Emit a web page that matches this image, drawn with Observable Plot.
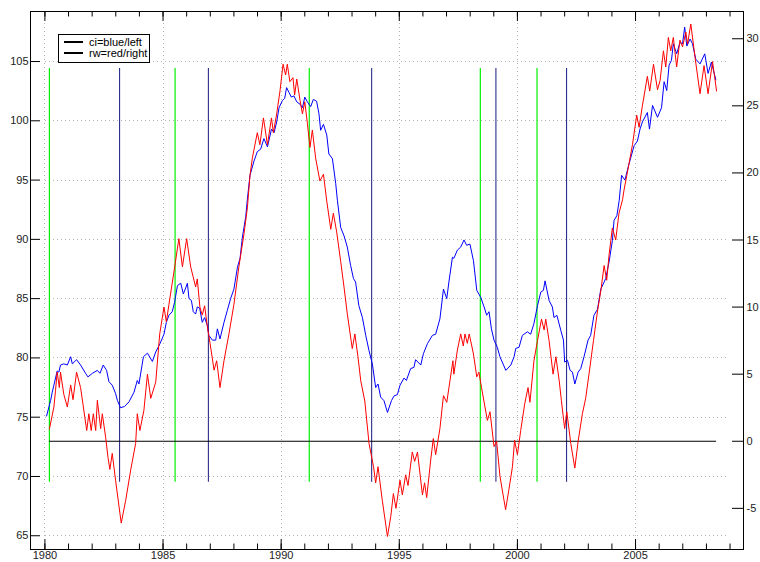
<!DOCTYPE html>
<html><head><meta charset="utf-8">
<script src="https://cdn.jsdelivr.net/npm/d3@7"></script>
<script src="https://cdn.jsdelivr.net/npm/@observablehq/plot@0.6"></script>
<style>
body{margin:0;background:#fff;}
#wrap{position:relative;width:760px;height:562px;font-family:"Liberation Sans",Arial,sans-serif;}
#legend{position:absolute;left:58px;top:34px;width:90px;height:27px;border:1px solid #000;background:#fff;font-size:11px;color:#000;}
#legend .row{position:absolute;left:0;height:12px;line-height:12px;}
#legend .sw{position:absolute;left:5px;top:5px;width:19px;height:2px;background:#000;}
#legend .lb{position:absolute;left:30px;top:0;white-space:nowrap;}
</style></head>
<body><div id="wrap"><div id="chart"></div>
<div id="legend">
<div class="row" style="top:1px"><div class="sw"></div><div class="lb">ci=blue/left</div></div>
<div class="row" style="top:12px"><div class="sw"></div><div class="lb">rw=red/right</div></div>
</div></div>
<script>
// ci (blue, left axis): [year, value]
const ciSeries = [[1980.07,75.1],[1980.24,76.4],[1980.31,77.1],[1980.38,77.7],[1980.52,78.9],[1980.59,78.8],[1980.66,79.4],[1980.80,79.5],[1980.95,79.4],[1981.09,80.1],[1981.16,79.5],[1981.34,79.85],[1981.51,79.4],[1981.72,78.7],[1981.82,78.4],[1982.01,78.7],[1982.22,78.95],[1982.33,78.7],[1982.47,79.4],[1982.61,78.95],[1982.71,78.0],[1982.85,77.7],[1982.99,77.0],[1983.07,76.4],[1983.20,75.8],[1983.37,75.9],[1983.56,76.3],[1983.77,77.1],[1983.91,78.1],[1983.98,77.8],[1984.17,80.1],[1984.34,80.4],[1984.55,79.7],[1984.69,80.5],[1984.87,81.2],[1985.04,82.0],[1985.14,83.0],[1985.25,83.6],[1985.39,83.9],[1985.49,84.7],[1985.61,86.1],[1985.75,86.3],[1985.86,85.4],[1985.96,85.9],[1986.03,86.3],[1986.10,85.0],[1986.20,84.85],[1986.28,83.9],[1986.38,83.7],[1986.45,84.3],[1986.55,84.2],[1986.66,83.0],[1986.76,83.4],[1986.88,82.7],[1986.94,81.9],[1987.09,81.5],[1987.23,81.5],[1987.30,82.45],[1987.41,81.6],[1987.58,83.0],[1987.72,84.0],[1987.86,85.0],[1988.00,85.8],[1988.15,87.65],[1988.26,88.4],[1988.36,90.2],[1988.50,91.9],[1988.57,93.4],[1988.68,95.4],[1988.85,96.6],[1988.99,97.4],[1989.13,97.6],[1989.27,98.5],[1989.42,97.8],[1989.59,99.3],[1989.70,99.0],[1989.81,99.9],[1989.91,101.1],[1990.05,101.7],[1990.15,101.9],[1990.23,102.8],[1990.33,102.4],[1990.43,102.0],[1990.54,102.1],[1990.66,101.6],[1990.80,101.4],[1990.90,101.1],[1991.00,102.0],[1991.11,101.6],[1991.25,101.2],[1991.36,101.8],[1991.50,101.65],[1991.60,100.6],[1991.67,99.2],[1991.79,99.7],[1991.93,98.8],[1992.02,97.2],[1992.17,96.8],[1992.31,94.7],[1992.38,93.3],[1992.52,91.0],[1992.66,90.3],[1992.80,89.35],[1992.94,87.8],[1993.06,86.7],[1993.15,86.4],[1993.29,84.4],[1993.44,83.4],[1993.58,81.9],[1993.72,80.6],[1993.86,79.5],[1994.00,77.5],[1994.10,77.8],[1994.21,76.7],[1994.35,76.4],[1994.50,75.4],[1994.67,76.4],[1994.78,76.8],[1994.92,76.9],[1995.03,77.7],[1995.20,78.3],[1995.30,78.1],[1995.48,79.1],[1995.62,79.2],[1995.69,79.85],[1995.91,79.4],[1996.02,80.35],[1996.19,81.2],[1996.40,81.9],[1996.54,82.0],[1996.72,83.3],[1996.87,85.8],[1997.01,85.0],[1997.10,86.4],[1997.25,88.5],[1997.31,88.4],[1997.46,89.1],[1997.60,89.35],[1997.74,89.95],[1997.85,89.5],[1997.99,89.6],[1998.14,88.2],[1998.28,85.7],[1998.45,85.1],[1998.59,84.3],[1998.70,83.6],[1998.80,83.9],[1998.90,82.45],[1999.01,81.5],[1999.15,80.9],[1999.26,80.1],[1999.51,78.95],[1999.72,79.4],[1999.86,80.1],[1999.93,80.8],[2000.07,80.9],[2000.21,81.9],[2000.42,82.2],[2000.56,82.0],[2000.70,82.9],[2000.85,84.4],[2000.99,85.55],[2001.10,85.7],[2001.17,86.5],[2001.34,84.85],[2001.48,84.3],[2001.55,83.4],[2001.67,83.6],[2001.84,82.3],[2001.95,81.5],[2002.00,79.65],[2002.12,79.8],[2002.23,78.95],[2002.33,78.8],[2002.43,77.8],[2002.57,78.8],[2002.68,79.1],[2002.82,80.1],[2002.99,81.5],[2003.10,81.9],[2003.24,83.6],[2003.39,84.1],[2003.53,85.8],[2003.74,86.7],[2003.88,88.1],[2004.02,89.9],[2004.09,91.6],[2004.21,92.0],[2004.31,93.3],[2004.41,95.4],[2004.55,95.0],[2004.73,96.4],[2004.94,97.9],[2005.08,98.3],[2005.19,99.3],[2005.29,99.9],[2005.50,100.7],[2005.59,99.3],[2005.72,101.3],[2005.93,100.3],[2006.10,101.1],[2006.21,103.3],[2006.32,102.55],[2006.42,104.7],[2006.52,105.1],[2006.60,106.5],[2006.74,105.65],[2006.88,106.6],[2006.99,106.5],[2007.08,107.9],[2007.17,106.3],[2007.31,106.9],[2007.41,106.5],[2007.55,105.2],[2007.73,104.8],[2007.93,105.65],[2008.07,104.0],[2008.21,104.95],[2008.40,103.45]];

// rw (red, right axis): [year, value]
const rwSeries = [[1980.19,0.9],[1980.38,2.55],[1980.45,3.8],[1980.52,5.15],[1980.61,4.0],[1980.66,5.15],[1980.80,3.5],[1980.95,2.55],[1981.09,4.2],[1981.19,3.1],[1981.34,5.15],[1981.51,4.0],[1981.77,0.8],[1981.86,2.05],[1981.96,0.8],[1982.05,2.05],[1982.15,0.8],[1982.22,3.05],[1982.36,0.94],[1982.43,2.05],[1982.57,0.3],[1982.67,-1.2],[1982.75,-2.1],[1982.85,-0.9],[1982.99,-2.9],[1983.23,-6.1],[1983.42,-4.4],[1983.63,-2.15],[1983.84,-0.17],[1983.91,2.05],[1984.02,0.8],[1984.19,2.3],[1984.34,5.0],[1984.48,3.2],[1984.69,4.4],[1984.86,8.0],[1985.04,10.0],[1985.14,8.9],[1985.25,10.2],[1985.46,12.6],[1985.67,15.1],[1985.82,13.0],[1986.00,15.1],[1986.17,13.0],[1986.38,11.5],[1986.45,12.1],[1986.56,10.0],[1986.66,9.4],[1986.76,10.1],[1986.88,8.5],[1986.99,7.3],[1987.16,5.3],[1987.27,6.0],[1987.41,4.0],[1987.58,6.0],[1987.79,8.0],[1988.00,10.2],[1988.21,13.0],[1988.43,15.5],[1988.57,17.4],[1988.68,19.8],[1988.78,21.1],[1988.99,23.0],[1989.10,22.1],[1989.25,24.1],[1989.42,22.1],[1989.59,24.1],[1989.67,23.0],[1989.81,24.4],[1989.95,26.1],[1990.08,28.1],[1990.19,27.3],[1990.26,28.1],[1990.37,26.8],[1990.50,27.1],[1990.57,25.8],[1990.66,27.0],[1990.80,25.4],[1990.90,24.4],[1991.00,25.3],[1991.11,23.7],[1991.22,21.9],[1991.32,23.2],[1991.46,21.1],[1991.64,19.4],[1991.79,19.9],[1991.93,17.9],[1992.10,15.8],[1992.21,17.0],[1992.35,15.6],[1992.52,13.4],[1992.66,11.5],[1992.80,9.5],[1993.01,6.9],[1993.12,8.0],[1993.25,6.3],[1993.37,4.5],[1993.54,3.0],[1993.72,-0.17],[1993.91,-1.9],[1994.00,-3.1],[1994.10,-1.9],[1994.28,-4.4],[1994.50,-7.1],[1994.64,-5.6],[1994.75,-3.9],[1994.86,-5.0],[1995.03,-2.9],[1995.13,-4.0],[1995.27,-2.5],[1995.37,-3.3],[1995.55,-0.8],[1995.65,-1.5],[1995.77,-0.8],[1995.98,-4.0],[1996.07,-3.1],[1996.16,-4.2],[1996.33,-1.4],[1996.44,0.2],[1996.54,-1.0],[1996.72,0.94],[1996.87,3.4],[1997.01,2.9],[1997.27,6.0],[1997.31,5.0],[1997.46,6.8],[1997.60,8.0],[1997.71,7.1],[1997.78,8.0],[1997.88,7.3],[1997.96,8.0],[1998.14,6.5],[1998.28,4.8],[1998.37,5.15],[1998.48,4.0],[1998.73,1.55],[1998.84,2.2],[1999.01,-0.4],[1999.12,0.0],[1999.26,-2.6],[1999.50,-5.1],[1999.64,-3.6],[1999.79,-1.9],[1999.88,0.07],[2000.00,-1.0],[2000.14,0.8],[2000.31,2.8],[2000.45,4.0],[2000.53,2.9],[2000.70,6.0],[2000.85,7.5],[2001.02,9.1],[2001.13,8.3],[2001.20,9.1],[2001.34,7.5],[2001.51,5.0],[2001.63,6.3],[2001.77,4.5],[2001.86,3.05],[2002.00,0.94],[2002.09,2.2],[2002.26,-0.17],[2002.43,-2.0],[2002.57,0.0],[2002.75,2.05],[2002.89,3.2],[2003.03,5.0],[2003.22,7.5],[2003.39,9.7],[2003.53,11.2],[2003.67,13.1],[2003.78,12.0],[2003.88,13.9],[2004.02,15.9],[2004.16,15.0],[2004.30,17.0],[2004.45,18.0],[2004.52,18.8],[2004.63,19.8],[2004.87,22.1],[2005.05,24.3],[2005.15,23.4],[2005.29,25.0],[2005.50,27.2],[2005.60,26.1],[2005.76,28.1],[2005.93,26.2],[2006.04,26.9],[2006.18,29.1],[2006.28,27.9],[2006.39,30.1],[2006.49,29.1],[2006.60,30.1],[2006.74,27.9],[2006.88,29.9],[2006.99,29.4],[2007.13,30.5],[2007.20,29.6],[2007.34,31.1],[2007.52,28.6],[2007.73,25.9],[2007.90,28.0],[2008.07,25.9],[2008.26,28.3],[2008.43,26.1]];

// event markers
const greenYears = [1980.19, 1985.51, 1991.19, 1998.43, 2000.83];
const navyYears = [1983.16, 1986.92, 1993.83, 1999.09, 2002.08];
const eventRangeLeft = [69.52, 104.41];

// ticks
const leftTicks = [65, 70, 75, 80, 85, 90, 95, 100, 105];
const rightTicks = [-5, 0, 5, 10, 15, 20, 25, 30];
const xMajor = [1980, 1985, 1990, 1995, 2000, 2005];
const xMinor = d3.range(1980, 2010);

// layout
const W = 760, H = 562, mL = 30, mR = 17, mT = 11, mB = 13;
const xDomain = [1979.39, 2009.57];
const yDomain = [63.84, 109.22];
const rA = 1.1317, rB = 72.97;           // right -> left axis mapping
const toLeft = r => rB + rA * r;
const fromLeft = l => (l - rB) / rA;
const pxX = (xDomain[1] - xDomain[0]) / (W - mL - mR);
const pxY = (yDomain[1] - yDomain[0]) / (H - mT - mB);
const ink = "#000";
const gridStyle = {stroke: "#b4b4b4", strokeDasharray: "1,3", strokeWidth: 1, shapeRendering: "crispEdges"};

const chart = Plot.plot({
  width: W, height: H,
  marginLeft: mL, marginRight: mR, marginTop: mT, marginBottom: mB,
  style: {fontFamily: "'Liberation Sans', Arial, sans-serif", fontSize: "11px", color: "#222", background: "#fff"},
  x: {domain: xDomain},
  y: {domain: yDomain},
  marks: [
    Plot.ruleX(xMajor, {x: d => d, y1: 64.9, y2: 108.5, ...gridStyle}),
    Plot.ruleY(leftTicks, {y: d => d, x1: 1980.03, x2: 2008.9, ...gridStyle}),
    Plot.ruleX(greenYears, {x: d => d, y1: eventRangeLeft[0], y2: eventRangeLeft[1], stroke: "#00f000", strokeWidth: 1.2}),
    Plot.ruleX(navyYears, {x: d => d, y1: eventRangeLeft[0], y2: eventRangeLeft[1], stroke: "#2c2c8c", strokeWidth: 1.1}),
    Plot.ruleY([0], {y: d => toLeft(d), x1: greenYears[0], x2: rwSeries[rwSeries.length - 1][0], stroke: ink, strokeWidth: 1}),
    Plot.line(ciSeries, {x: d => d[0], y: d => d[1], stroke: "#0000ff", strokeWidth: 1}),
    Plot.line(rwSeries, {x: d => d[0], y: d => toLeft(d[1]), stroke: "#ff0000", strokeWidth: 1}),
    Plot.frame({stroke: ink, strokeWidth: 1}),
    // inward ticks
    Plot.ruleY(leftTicks, {y: d => d, x1: xDomain[0], x2: xDomain[0] + 10 * pxX, stroke: ink}),
    Plot.ruleY(rightTicks, {y: d => toLeft(d), x1: xDomain[1] - 11 * pxX, x2: xDomain[1], stroke: ink}),
    Plot.ruleX(xMinor, {x: d => d, y1: yDomain[0], y2: yDomain[0] + 5.5 * pxY, stroke: ink}),
    Plot.ruleX(xMajor, {x: d => d, y1: yDomain[0], y2: yDomain[0] + 10 * pxY, stroke: ink}),
    Plot.ruleX(xMinor, {x: d => d, y1: yDomain[1], y2: yDomain[1] - 5.5 * pxY, stroke: ink}),
    Plot.ruleX(xMajor, {x: d => d, y1: yDomain[1], y2: yDomain[1] - 10 * pxY, stroke: ink}),
    // labels
    Plot.axisY(leftTicks, {anchor: "left", tickSize: 0, tickPadding: 2, tickFormat: d => String(d)}),
    Plot.axisY(rightTicks.map(toLeft), {anchor: "right", tickSize: 0, tickPadding: 3, tickFormat: v => String(Math.round(fromLeft(v)))}),
    Plot.axisX(xMajor, {anchor: "bottom", tickSize: 0, tickPadding: 2, tickFormat: d => String(d)})
  ]
});
document.getElementById("chart").appendChild(chart);
</script>
</body></html>
